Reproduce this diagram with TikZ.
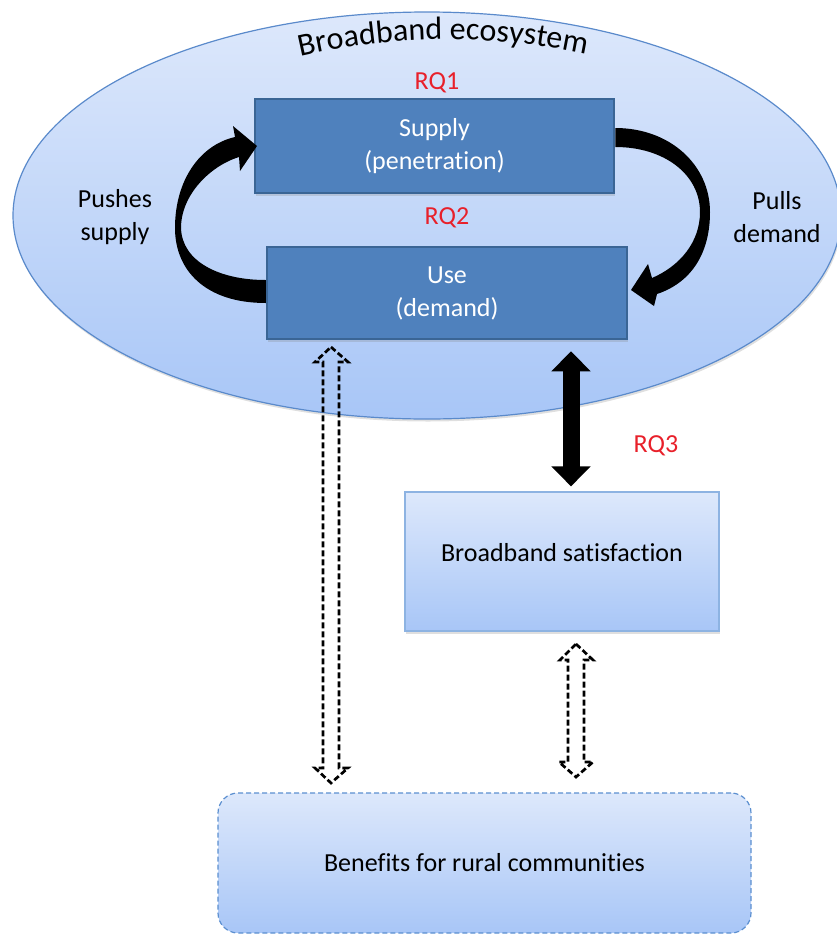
\documentclass[tikz,border=0pt]{standalone}
\usepackage{fontspec}
\setmainfont[Ligatures=NoCommon]{Carlito}
\usetikzlibrary{shadows,decorations.text,calc,arrows.meta,shapes.geometric}
\definecolor{ellborder}{HTML}{5A8ACB}
\definecolor{lighttop}{HTML}{DDE8FB}
\definecolor{lightbot}{HTML}{A8C6F7}
\definecolor{darkfill}{HTML}{4F81BD}
\definecolor{darkborder}{HTML}{3A6595}
\definecolor{rqred}{HTML}{E8202A}
\definecolor{satborder}{HTML}{8DB3E2}
\definecolor{dashborder}{HTML}{5B8FD0}
\begin{document}
\begin{tikzpicture}[x=1pt,y=-1pt,
  txt/.style={font=\fontsize{26}{33}\selectfont, align=center, inner sep=0pt},
  softshadow/.style={drop shadow={opacity=0.25, shadow xshift=1pt, shadow yshift=-2.5pt}},
  ecobox/.style={ellipse, draw=ellborder, line width=1.2pt, top color=lighttop, bottom color=lightbot, inner sep=0pt, softshadow},
  darkbox/.style={rectangle, draw=darkborder, line width=2.5pt, fill=darkfill, text=white, txt, softshadow},
  satbox/.style={rectangle, draw=satborder, line width=1.2pt, top color=lighttop, bottom color=lightbot, softshadow},
  benbox/.style={rectangle, rounded corners=20pt, draw=dashborder, line width=1.2pt, dash pattern=on 5pt off 3pt, top color=lighttop, bottom color=lightbot},
  rq/.style={txt, text=rqred},
  curvearrow/.style={fill=black},
  bigarrow/.style={line width=17pt, {Triangle[width=38pt,length=20pt]}-{Triangle[width=38pt,length=20pt]}},
  hollowdash/.style={draw=black, line width=2.7pt, dash pattern=on 6pt off 3pt, line join=miter}
]
\useasboundingbox (0,0) rectangle (837,935);

% ecosystem ellipse
\node (eco) [ecobox, minimum width=828pt, minimum height=407pt] at (427,215.5) {};
\path[decorate, decoration={text along path, text align=center,
   text={|\fontsize{32}{32}\selectfont|Broadband ecosystem}}]
   (297,57) .. controls (394,34) and (492,34) .. (590,55);

% boxes
\node (supply) [darkbox, minimum width=359pt, minimum height=94pt] at (434.5,146) {Supply\\(penetration)};
\node (use) [darkbox, minimum width=360pt, minimum height=92pt] at (447,293) {Use\\(demand)};

\node (rq1) [rq] at (437,83) {RQ1};
\node (rq2) [rq] at (447,218) {RQ2};
\node (rq3) [rq] at (656,446) {RQ3};

\node (push) [txt] at (115,217) {Pushes\\supply};
\node (pull) [txt] at (777,217) {Pulls\\demand};

% curved arrows
\fill[curvearrow] (use.west |- 0,280) .. controls (220,280) and (182,262) .. (181,228)
   .. controls (181,195) and (210,166) .. (239,157) -- (240,171) -- (257,146) -- (233,126) -- (235,137)
   .. controls (200,145) and (175,180) .. (175,228)
   .. controls (175,270) and (205,303) .. (use.west |- 0,303) -- cycle;
\fill[curvearrow] (supply.east |- 0,128) .. controls (670,128) and (710,165) .. (710,212)
   .. controls (710,255) and (690,283) .. (657,294) -- (654,306) -- (631,290) -- (648,264) -- (652,278)
   .. controls (680,266) and (700,242) .. (700,212)
   .. controls (700,175) and (665,147) .. (supply.east |- 0,147) -- cycle;

% satisfaction and benefits
\node (sat) [satbox, minimum width=314pt, minimum height=139pt,
   label={[txt, yshift=9pt]center:Broadband satisfaction}] at (562,561.5) {};
\node (ben) [benbox, minimum width=533pt, minimum height=140pt, txt] at (484.5,863) {Benefits for rural communities};

% black double arrow use <-> satisfaction
\coordinate (b1) at ([yshift=-11pt]use.south -| 571,0);
\coordinate (b2) at ([yshift=5pt]sat.north -| 571,0);
\draw[bigarrow] (b1) -- (b2);

% dashed hollow double arrows
\coordinate (d1) at (331,347);
\coordinate (d2) at (331,783);
\draw[hollowdash] (d1) -- ++(17,15) -- ++(-9,0) -- ($(d2)+(8,-15)$) -- ++(9,0) -- (d2)
   -- ++(-16,-15) -- ++(8,0) -- ($(d1)+(-8,15)$) -- ++(-8,0) -- cycle;
\coordinate (e1) at (576,644);
\coordinate (e2) at (576,777);
\draw[hollowdash] (e1) -- ++(17,16) -- ++(-9,0) -- ($(e2)+(8,-15)$) -- ++(9,0) -- (e2)
   -- ++(-17,-15) -- ++(9,0) -- ($(e1)+(-8,16)$) -- ++(-8,0) -- cycle;
\end{tikzpicture}
\end{document}
